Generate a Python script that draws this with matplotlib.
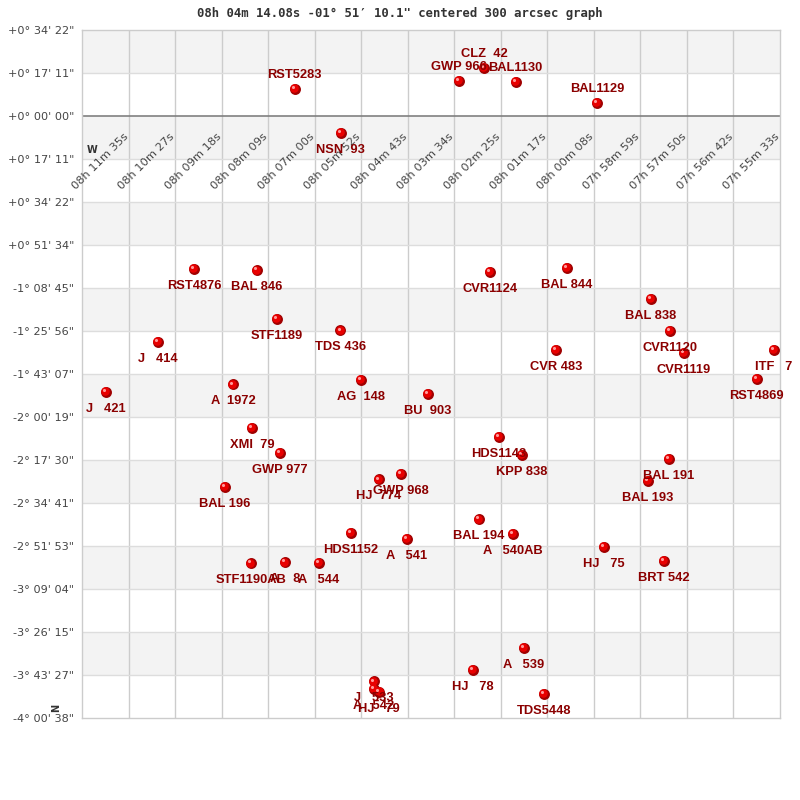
import matplotlib
matplotlib.use("Agg")
import matplotlib.pyplot as plt
from matplotlib.transforms import offset_copy

# Grid units: 1 unit = 1031.25 arcsec (one grid step). x from left edge, y = dec offset from 0 deg line
names = ["RST5283", "NSN  93", "GWP 966", "CLZ  42", "BAL1130", "BAL1129",
         "RST4876", "BAL 846", "STF1189", "TDS 436", "J   414", "A  1972",
         "AG  148", "J   421", "CVR1124", "BAL 844", "BAL 838", "CVR1120",
         "CVR 483", "CVR1119", "ITF   7", "RST4869", "BU  903", "XMI  79",
         "GWP 977", "BAL 196", "HDS1152", "STF1190AB", "A    8", "A   544",
         "HJ  774", "GWP 968", "HDS1143", "KPP 838", "BAL 191", "BAL 193",
         "BAL 194", "A   540AB", "A   541", "HJ   75", "BRT 542", "A   539",
         "HJ   78", "TDS5448", "J   533", "A   542", "HJ   79"]
ra_units = [4.571, 5.560, 8.102, 8.639, 9.320, 11.067,
            2.407, 3.754, 4.184, 5.551, 1.633, 3.245,
            5.989, 0.516, 8.762, 10.423, 12.228, 12.636,
            10.180, 12.931, 14.865, 14.499, 7.436, 3.653,
            4.255, 3.073, 5.774, 3.632, 4.356, 5.093,
            6.383, 6.849, 8.955, 9.456, 12.608, 12.157,
            8.525, 9.262, 6.978, 11.211, 12.501, 9.492,
            8.396, 9.922, 6.269, 6.269, 6.389]
dec_units = [0.635, -0.388, 0.821, 1.123, 0.798, 0.309,
             -3.551, -3.588, -4.714, -4.984, -5.249, -6.240,
             -6.133, -6.412, -3.621, -3.528, -4.249, -4.993,
             -5.435, -5.512, -5.435, -6.109, -6.458, -7.249,
             -7.830, -8.621, -9.691, -10.402, -10.379, -10.388,
             -8.449, -8.319, -7.458, -7.877, -7.970, -8.481,
             -9.379, -9.714, -9.830, -10.016, -10.349, -12.365,
             -12.877, -13.442, -13.147, -13.319, -13.388]

ra_tick_labels = ["08h 11m 35s", "08h 10m 27s", "08h 09m 18s", "08h 08m 09s",
                  "08h 07m 00s", "08h 05m 52s", "08h 04m 43s", "08h 03m 34s",
                  "08h 02m 25s", "08h 01m 17s", "08h 00m 08s", "07h 58m 59s",
                  "07h 57m 50s", "07h 56m 42s", "07h 55m 33s"]
dec_tick_labels = ["+0° 34' 22\"", "+0° 17' 11\"", "+0° 00' 00\"", "+0° 17' 11\"",
                   "+0° 34' 22\"", "+0° 51' 34\"", "-1° 08' 45\"", "-1° 25' 56\"",
                   "-1° 43' 07\"", "-2° 00' 19\"", "-2° 17' 30\"", "-2° 34' 41\"",
                   "-2° 51' 53\"", "-3° 09' 04\"", "-3° 26' 15\"", "-3° 43' 27\"",
                   "-4° 00' 38\""]
title = "08h 04m 14.08s -01° 51′ 10.1\" centered 300 arcsec graph"

fig = plt.figure(figsize=(8, 8), dpi=100)
ax = fig.add_axes([82/800, 1-718/800, 698/800, 688/800])
ax.set_xlim(0, 15)
ax.set_ylim(-14, 2)

# bands
for k in range(16):
    top = 2 - k
    if k % 2 == 0:
        ax.axhspan(top - 1, top, color="#f3f3f3", lw=0, zorder=0)
for i in range(1, 15):
    ax.axvline(i, color="#cccccc", lw=1.0, zorder=1)
for j in range(-13, 2):
    if j == 0:
        continue
    ax.axhline(j, color="#dddddd", lw=1.0, zorder=1)
ax.axhline(0, color="#808080", lw=1.2, zorder=2)
for s in ax.spines.values():
    s.set_color("#cccccc")
    s.set_linewidth(1.0)

yt = [2 - k for k in range(17)]
ax.set_yticks(yt)
ax.set_yticklabels(dec_tick_labels, fontsize=8.1, color="#444444", family="DejaVu Sans")
ax.tick_params(axis="y", length=0, pad=5.5)
ax.set_xticks([])

for i, lab in enumerate(ra_tick_labels):
    ax.text(i + 1, -21/43, lab, rotation=45, rotation_mode="anchor",
            ha="right", va="baseline", fontsize=8.2, color="#444444",
            family="DejaVu Sans", zorder=3)

# spheres
ax.scatter(ra_units, dec_units, s=62, color="#a00000", lw=0, zorder=5)
tr1 = offset_copy(ax.transData, fig=fig, x=-0.4, y=0.4, units="points")
ax.scatter(ra_units, dec_units, s=38, color="#e80000", lw=0, zorder=6, transform=tr1)
tr2 = offset_copy(ax.transData, fig=fig, x=-1.3, y=1.3, units="points")
ax.scatter(ra_units, dec_units, s=5, color="#ff9a9a", lw=0, zorder=7, transform=tr2)

for n, x, y in zip(names, ra_units, dec_units):
    dy = 7.9 if y > 0 else -14.5
    ax.annotate(n, (x, y), xytext=(0, dy), textcoords="offset points",
                ha="center", va="baseline", fontsize=9.3, fontweight="bold",
                family="Liberation Sans", color="#8b0000", zorder=8,
                annotation_clip=False)

fig.text(400/800, 1-13/800, title, ha="center", va="center", fontsize=8.8,
         fontweight="bold", family=["DejaVu Sans Mono", "DejaVu Sans"], color="#333333")
fig.text(92/800, 1-150/800, "W", ha="center", va="center", fontsize=7,
         fontweight="bold", color="#333333")
fig.text(56/800, 1-708/800, "N", ha="center", va="center", fontsize=7,
         fontweight="bold", color="#333333", rotation=90)

fig.savefig("out.png", dpi=100)
